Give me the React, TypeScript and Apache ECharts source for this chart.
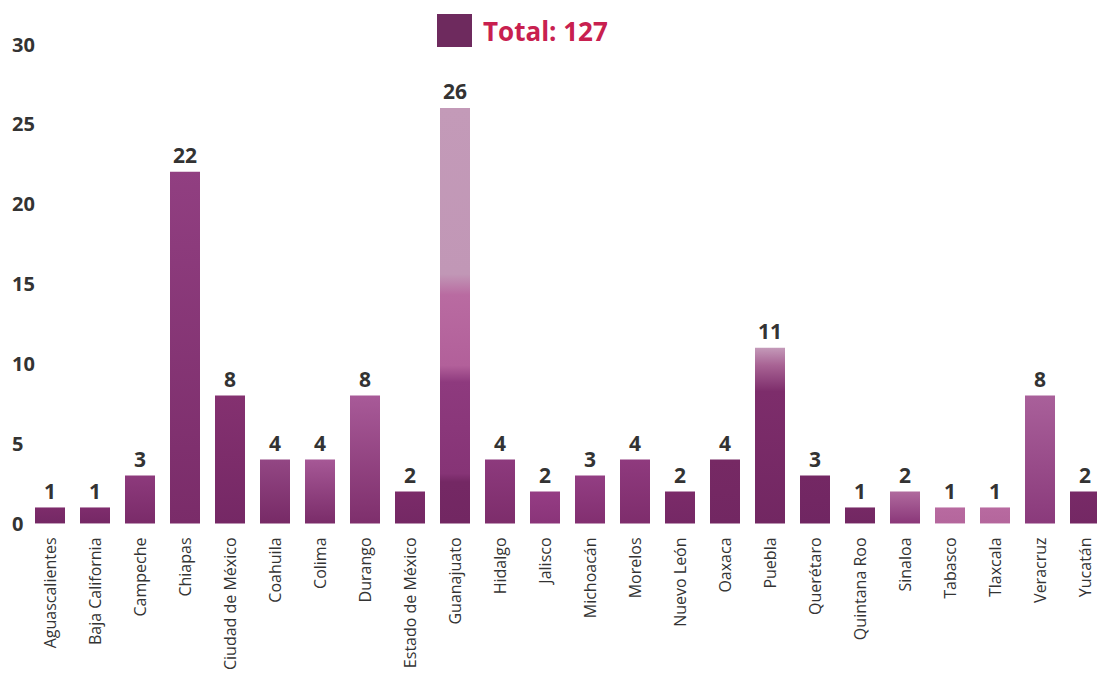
import React, { useEffect, useRef } from "react";
import * as echarts from "echarts";

const categories = [
  "Aguascalientes", "Baja California", "Campeche", "Chiapas", "Ciudad de México",
  "Coahuila", "Colima", "Durango", "Estado de México", "Guanajuato", "Hidalgo",
  "Jalisco", "Michoacán", "Morelos", "Nuevo León", "Oaxaca", "Puebla", "Querétaro",
  "Quintana Roo", "Sinaloa", "Tabasco", "Tlaxcala", "Veracruz", "Yucatán",
];
const values = [1, 1, 3, 22, 8, 4, 4, 8, 2, 26, 4, 2, 3, 4, 2, 4, 11, 3, 1, 2, 1, 1, 8, 2];
const legendLabel = "Total: 127";
const yTicks = [0, 5, 10, 15, 20, 25, 30];

// visual styling: [top colour, bottom colour] per bar (approximating textured fills)
const barColors: [string, string][] = [
  ["#7d2c6b", "#742864"],
  ["#7f2d6d", "#752865"],
  ["#8d3a7c", "#7a2b69"],
  ["#913f81", "#7a2c69"],
  ["#843170", "#752865"],
  ["#934784", "#772a66"],
  ["#a65896", "#7a2c69"],
  ["#a85a98", "#7e2f6c"],
  ["#7b2b69", "#742864"],
  ["#c39ab8", "#742864"],
  ["#8d3a7d", "#7d2d6b"],
  ["#953d84", "#8a3479"],
  ["#933e83", "#822f70"],
  ["#8f3a7e", "#7e2d6c"],
  ["#7b2b69", "#752865"],
  ["#762964", "#722762"],
  ["#b47ea6", "#732862"],
  ["#742864", "#702662"],
  ["#762965", "#722762"],
  ["#b06a9e", "#8a3779"],
  ["#b86aa0", "#b4669c"],
  ["#b86aa0", "#b4669c"],
  ["#a9609a", "#8a3a7b"],
  ["#782a67", "#742864"],
];

function barFill(i: number) {
  const [top, bottom] = barColors[i];
  if (categories[i] === "Guanajuato") {
    return new echarts.graphic.LinearGradient(0, 0, 0, 1, [
      { offset: 0, color: "#c39ab8" },
      { offset: 0.4, color: "#c197b6" },
      { offset: 0.45, color: "#b96ba1" },
      { offset: 0.62, color: "#b2609a" },
      { offset: 0.66, color: "#8e3a7e" },
      { offset: 0.88, color: "#863476" },
      { offset: 0.9, color: "#742864" },
      { offset: 1, color: "#722762" },
    ]);
  }
  if (categories[i] === "Puebla") {
    return new echarts.graphic.LinearGradient(0, 0, 0, 1, [
      { offset: 0, color: "#c49ab9" },
      { offset: 0.1, color: "#a86394" },
      { offset: 0.25, color: "#7d2d6b" },
      { offset: 1, color: "#722762" },
    ]);
  }
  return new echarts.graphic.LinearGradient(0, 0, 0, 1, [
    { offset: 0, color: top },
    { offset: 1, color: bottom },
  ]);
}

export default function App() {
  const ref = useRef<HTMLDivElement>(null);
  useEffect(() => {
    if (!ref.current) return;
    const chart = echarts.init(ref.current, undefined, { renderer: "svg" });
    chart.setOption({
      animation: false,
      textStyle: { fontFamily: "Open Sans" },
      legend: {
        data: [legendLabel],
        left: 437,
        top: 14,
        padding: 0,
        itemWidth: 35,
        itemHeight: 33,
        itemGap: 10,
        icon: "rect",
        selectedMode: false,
        textStyle: {
          color: "#c8204f",
          fontSize: 26,
          fontWeight: "bold",
          fontFamily: "Open Sans",
          padding: [0, 0, 0, 6],
        },
      },
      grid: { left: 27.5, right: 2.5, top: 44, bottom: 148 },
      xAxis: {
        type: "category",
        data: categories,
        axisLine: { show: false },
        axisTick: { show: false },
        axisLabel: {
          rotate: 90,
          interval: 0,
          margin: 14,
          fontSize: 16,
          color: "#333",
          fontFamily: "Open Sans",
        },
      },
      yAxis: {
        type: "value",
        min: yTicks[0],
        max: yTicks[yTicks.length - 1],
        interval: 5,
        splitLine: { show: false },
        axisLine: { show: false },
        axisTick: { show: false },
        axisLabel: {
          align: "left",
          margin: 15.5,
          fontSize: 20,
          fontWeight: "bold",
          color: "#333",
          fontFamily: "Open Sans",
        },
      },
      series: [
        {
          name: legendLabel,
          type: "bar",
          barWidth: 30,
          itemStyle: { color: "#6e2a5e" },
          label: {
            show: true,
            position: "top",
            distance: 6,
            fontSize: 21,
            fontWeight: "bold",
            color: "#333",
            fontFamily: "Open Sans",
          },
          data: values.map((v, i) => ({ value: v, itemStyle: { color: barFill(i) } })),
        },
      ],
    });
    return () => chart.dispose();
  }, []);
  return (
    <div style={{ position: "fixed", left: 0, top: 0, width: 1097, height: 673, overflow: "hidden", background: "#fff" }}>
      <div ref={ref} style={{ width: 1110, height: 673 }} />
    </div>
  );
}
